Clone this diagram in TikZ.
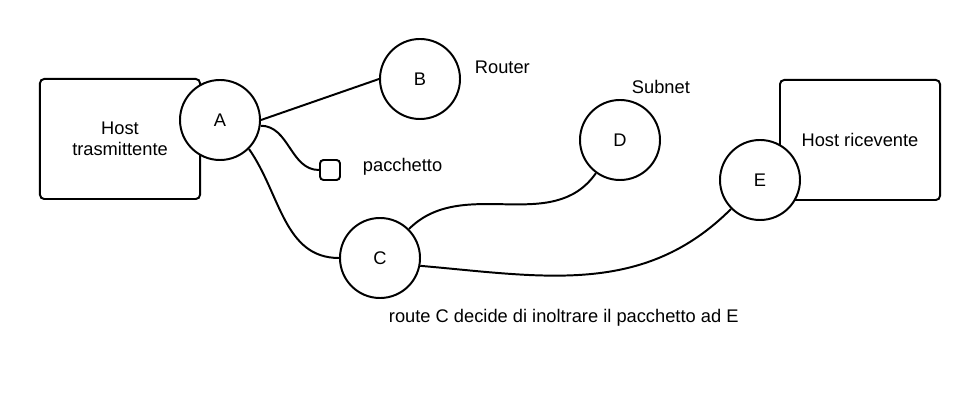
\documentclass[tikz,border=0pt]{standalone}
\usepackage{fontspec}
\setmainfont{Liberation Sans}
\usepackage{tikz}

\tikzset{
  router/.style={draw, circle, fill=white, line width=1.4pt, minimum size=2cm, inner sep=0pt},
  hostbox/.style={draw, rounded corners=3pt, line width=1.4pt, minimum width=4cm, minimum height=3cm, align=center},
  pkt/.style={draw, rounded corners=2.5pt, line width=1.4pt, minimum size=0.5cm, inner sep=0pt},
  link/.style={line width=1.4pt}
}

\begin{document}
\begin{tikzpicture}[x=0.025cm, y=-0.025cm, font=\fontsize{13}{15}\selectfont]
        \useasboundingbox (0, 0) rectangle (980, 400);

        \node [hostbox] (H1) at (120, 139) {Host\\trasmittente};
        \node [hostbox] (H2) at (860, 140) {Host ricevente};

        \node [router] (A) at (220, 120) {A};
        \node [router] (B) at (420, 79) {B};
        \node [router] (C) at (380, 258) {C};
        \node [router] (D) at (620, 140) {D};
        \node [router] (E) at (760, 180) {E};
        \node [pkt] (P) at (330, 170) {};

        \node [anchor=west] (lblB) at (470, 67) {Router};
        \node [anchor=west] (lblD) at (627, 87) {Subnet};
        \node [anchor=west] (lblP) at (358, 167) {pacchetto};
        \node [anchor=west] (note) at (384, 318) {route C decide di inoltrare il pacchetto ad E};

        \draw [link] (A.east) -- (B.west);
        \draw [link] (A.-8) to[out=0, in=180] (P.west);
        \draw [link] (A.-45) to[out=-55, in=180] (C.west);
        \draw [link] (C.45) to[out=45, in=-125] (D.234);
        \draw [link] (C.-11) to[out=-5, in=225] (E.225);
    \end{tikzpicture}
\end{document}
